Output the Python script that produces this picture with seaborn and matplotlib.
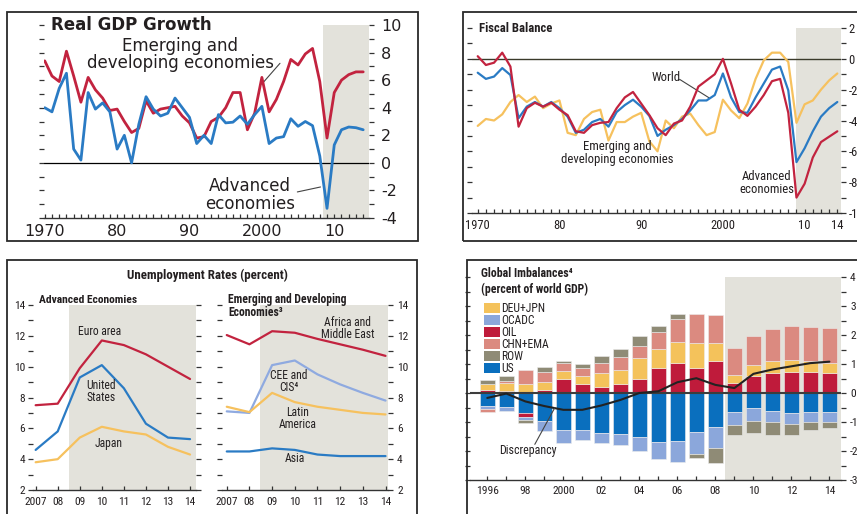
import os
import matplotlib
matplotlib.use("Agg")
import matplotlib.pyplot as plt
import seaborn as sns
import numpy as np
from matplotlib import font_manager as fm
from matplotlib.ticker import MultipleLocator, FixedLocator
from matplotlib.patches import Rectangle

# ---------------- data ----------------
years_gdp = list(range(1970, 2015))
gdp_emerging = [7.4, 6.3, 5.9, 8.1, 6.3, 4.4, 6.2, 5.3, 4.7, 3.8,
                3.9, 3.0, 2.2, 2.5, 4.5, 3.6, 3.9, 4.0, 4.1, 3.4,
                2.9, 1.8, 1.9, 3.0, 3.3, 4.0, 5.1, 5.1, 2.4, 3.6,
                6.2, 3.7, 4.6, 5.9, 7.5, 7.1, 7.9, 8.3, 5.9, 1.8,
                5.1, 6.0, 6.4, 6.6, 6.6]
gdp_advanced = [4.0, 3.7, 5.4, 6.5, 1.0, 0.2, 5.1, 3.9, 4.35, 3.7,
                1.0, 2.0, 0.0, 2.8, 4.8, 3.9, 3.4, 3.6, 4.7, 4.0,
                3.3, 1.4, 2.0, 1.4, 3.5, 2.9, 2.95, 3.4, 2.8, 3.5,
                4.1, 1.4, 1.8, 1.9, 3.2, 2.65, 3.0, 2.7, 0.5, -3.3,
                1.3, 2.4, 2.6, 2.55, 2.4]

years_fb = list(range(1970, 2015))
fb_advanced = [0.17, -0.4, -0.25, 0.4, -0.5, -4.4, -3.2, -2.85, -3.1, -2.85,
               -3.3, -3.65, -4.7, -4.8, -4.3, -4.15, -4.1, -3.2, -2.5, -2.15,
               -2.9, -3.65, -4.5, -4.95, -4.2, -4.0, -3.1, -1.8, -1.4, -1.0,
               0.0, -1.6, -3.3, -3.7, -3.1, -2.35, -1.45, -1.3, -3.5, -9.0,
               -8.1, -6.4, -5.4, -5.05, -4.7]
fb_world = [-0.9, -1.3, -1.15, -0.6, -1.05, -3.85, -3.1, -2.8, -3.1, -2.8,
            -3.2, -3.75, -4.8, -4.6, -4.1, -3.9, -4.4, -3.45, -3.0, -2.65,
            -3.1, -3.7, -5.0, -4.6, -4.3, -3.9, -3.35, -2.7, -2.7, -2.35,
            -0.95, -2.5, -3.45, -3.5, -2.5, -1.6, -0.7, -0.5, -2.05, -6.7,
            -5.8, -4.7, -3.75, -3.2, -2.8]
fb_emerging = [-4.35, -3.9, -4.0, -3.6, -2.8, -2.35, -2.8, -2.45, -3.2, -2.9,
               -2.7, -4.8, -4.95, -3.9, -3.45, -3.3, -5.3, -4.1, -4.1, -3.75,
               -3.5, -5.35, -6.0, -4.0, -4.5, -3.75, -3.55, -4.3, -4.95, -4.75,
               -2.65, -3.35, -3.85, -2.9, -1.3, -0.1, 0.4, 0.4, -0.2, -4.15,
               -2.95, -2.7, -2.0, -1.4, -0.95]

years_un = list(range(2007, 2015))
un_euro = [7.5, 7.6, 9.9, 11.7, 11.4, 10.8, 10.0, 9.2]
un_us = [4.6, 5.8, 9.3, 10.1, 8.6, 6.3, 5.4, 5.3]
un_japan = [3.8, 4.0, 5.4, 6.1, 5.8, 5.6, 4.8, 4.3]
un_africa_me = [12.05, 11.45, 12.3, 12.2, 11.8, 11.45, 11.1, 10.7]
un_cee_cis = [7.1, 7.0, 10.1, 10.4, 9.5, 8.85, 8.3, 7.8]
un_latam = [7.4, 7.05, 8.3, 7.7, 7.4, 7.2, 7.0, 6.9]
un_asia = [4.5, 4.5, 4.7, 4.6, 4.3, 4.2, 4.2, 4.2]
un_xlabels = ["2007", "08", "09", "10", "11", "12", "13", "14"]

years_gi = list(range(1996, 2015))
gi_us = [-0.44, -0.48, -0.70, -0.97, -1.29, -1.26, -1.37, -1.43, -1.52, -1.69,
         -1.64, -1.34, -1.17, -0.64, -0.53, -0.62, -0.70, -0.65, -0.64]
gi_oil = [0.10, 0.08, -0.13, 0.12, 0.50, 0.31, 0.20, 0.31, 0.50, 0.86,
          1.05, 0.85, 1.09, 0.35, 0.57, 0.70, 0.74, 0.74, 0.69]
gi_deu_jpn = [0.21, 0.27, 0.31, 0.26, 0.26, 0.27, 0.49, 0.50, 0.70, 0.67,
              0.70, 0.86, 0.65, 0.26, 0.38, 0.41, 0.41, 0.38, 0.36]
gi_ocadc = [-0.10, -0.14, -0.09, -0.33, -0.43, -0.35, -0.35, -0.35, -0.47, -0.58,
            -0.73, -0.77, -0.74, -0.47, -0.43, -0.38, -0.38, -0.35, -0.35]
gi_chn_ema = [-0.11, 0.08, 0.47, 0.35, 0.28, 0.29, 0.33, 0.43, 0.42, 0.58,
              0.80, 1.02, 0.95, 0.95, 1.01, 1.09, 1.16, 1.14, 1.19]
gi_row = [0.15, 0.14, -0.12, 0.15, 0.07, 0.14, 0.27, 0.29, 0.35, 0.20,
          0.19, -0.12, -0.50, -0.35, -0.41, -0.45, -0.37, -0.29, -0.23]
gi_discrepancy = [-0.17, -0.02, -0.29, -0.45, -0.58, -0.58, -0.43, -0.24, 0.0, 0.06,
                  0.37, 0.51, 0.28, 0.17, 0.66, 0.81, 0.92, 1.03, 1.08]
gi_xlabels = ["1996", "98", "2000", "02", "04", "06", "08", "10", "12", "14"]

# ---------------- fonts ----------------
sns.set_style("white")
plt.rcParams["font.family"] = ["DejaVu Sans"]
plt.rcParams["axes.unicode_minus"] = False

_files = {}
for _f in fm.fontManager.ttflist:
    _files.setdefault(os.path.basename(_f.fname).lower(), _f.fname)

_cands = [  # (regular, bold, size scale relative to Arial Narrow)
    ("liberationsansnarrow-regular.ttf", "liberationsansnarrow-bold.ttf", 1.0),
    ("robotocondensed-regular.ttf", "robotocondensed-bold.ttf", 0.93),
    ("roboto_condensed-regular.ttf", "roboto_condensed-bold.ttf", 0.93),
    ("notosans-condensed.ttf", "notosans-condensedbold.ttf", 0.9),
    ("dejavusanscondensed.ttf", "dejavusanscondensed-bold.ttf", 0.84),
]
REG = BLD = None
SCALE = 0.8
for r, b, s in _cands:
    if r in _files:
        REG = _files[r]
        BLD = _files.get(b, REG)
        SCALE = s
        break


def NF(size, bold=False):
    if REG is not None:
        return fm.FontProperties(fname=(BLD if bold else REG), size=size * SCALE)
    return fm.FontProperties(family="DejaVu Sans", size=size * SCALE,
                             weight="bold" if bold else "normal")


SHADE = "#E3E2DB"
RED = "#C2233F"
BLUE = "#2A7BC4"
ORANGE = "#F6C15E"
LBLUE = "#8FAAE0"
TXT = "#231F20"
TICK = "#333333"

C_DEU = "#F4C25B"
C_OCADC = "#8BA7DB"
C_OIL = "#BF1B3B"
C_CHN = "#DB8A80"
C_ROW = "#8F8B76"
C_US = "#0A6FBE"

W, H = 857, 514
fig = plt.figure(figsize=(W / 100, H / 100), dpi=100)
fig.patch.set_facecolor("white")


def px_axes(x0, y0, x1, y1):
    return fig.add_axes([x0 / W, 1 - y1 / H, (x1 - x0) / W, (y1 - y0) / H])


def frame(x0, y0, x1, y1):
    fig.add_artist(Rectangle((x0 / W, 1 - y1 / H), (x1 - x0) / W, (y1 - y0) / H,
                             transform=fig.transFigure, fill=False,
                             ec="#2a2a2a", lw=1.3))


def setup(ax, xlim, ylim, shade_from, ymaj, ymin, side, xmaj, xlabels, fp,
          ypad=2, xpad=3):
    ax.set_xlim(*xlim)
    ax.set_ylim(*ylim)
    ax.axvspan(shade_from, xlim[1], color=SHADE, lw=0, zorder=0)
    for s in ["left", "right", "top"]:
        ax.spines[s].set_visible(False)
    ax.spines["bottom"].set_color(TICK)
    ax.spines["bottom"].set_linewidth(1.0)
    ax.yaxis.set_major_locator(MultipleLocator(ymaj))
    ax.yaxis.set_minor_locator(MultipleLocator(ymin))
    ax.tick_params(axis="y", which="both", left=True, right=True,
                   labelleft=(side == "left"), labelright=(side == "right"),
                   direction="out", length=3.5, width=0.9, color=TICK,
                   labelcolor=TXT, pad=ypad)
    ax.xaxis.set_major_locator(FixedLocator(xmaj))
    ax.set_xticklabels(xlabels)
    ax.xaxis.set_minor_locator(MultipleLocator(1))
    ax.tick_params(axis="x", which="both", bottom=True, direction="in",
                   length=3, width=0.9, color=TICK, labelcolor=TXT, pad=xpad)
    for lab in ax.get_xticklabels() + ax.get_yticklabels():
        lab.set_fontproperties(fp)
    ax.set_xlabel("")
    ax.set_ylabel("")
    ax.set_facecolor("none")
    ax.grid(False)


# ---------------- frames ----------------
frame(7, 12, 418, 241)
frame(463, 12, 880, 241)
frame(7, 260, 417, 540)
frame(467, 260, 880, 540)

# ---------------- panel 1: Real GDP growth ----------------
DJ = "DejaVu Sans"
ax1 = px_axes(44, 25, 369, 218)
ax1.axhline(0, color="black", lw=0.9, zorder=1)
sns.lineplot(x=years_gdp, y=gdp_emerging, ax=ax1, color=RED, lw=2.0, zorder=3)
sns.lineplot(x=years_gdp, y=gdp_advanced, ax=ax1, color=BLUE, lw=2.0, zorder=3)
setup(ax1, (1969.9, 2014.8), (-4, 10), 2008.5, 2, 1, "right",
      [1970, 1980, 1990, 2000, 2010], ["1970", "80", "90", "2000", "10"],
      fm.FontProperties(family=DJ, size=11.5), ypad=5, xpad=4)
ax1.text(1970.8, 10, "Real GDP Growth", fontsize=12, fontweight="bold",
         family=DJ, color=TXT, ha="left", va="center")
ax1.text(1988.7, 7.86, "Emerging and\ndeveloping economies", fontsize=12,
         family=DJ, color=TXT, ha="center", va="center", linespacing=0.95)
ax1.plot([2002.5, 2000.0], [7.22, 5.72], color="#444", lw=0.8)
ax1.text(1998.4, -2.33, "Advanced\neconomies", fontsize=12, family=DJ,
         color=TXT, ha="center", va="center", linespacing=0.95)
ax1.plot([2004.9, 2008.1], [-2.11, -1.75], color="#444", lw=0.8)

# ---------------- panel 2: Fiscal balance ----------------
ax2 = px_axes(472, 28, 841, 213)
ax2.axhline(0, color="#3a3a2a", lw=1.0, zorder=1)
sns.lineplot(x=years_fb, y=fb_emerging, ax=ax2, color=ORANGE, lw=1.6, zorder=3)
sns.lineplot(x=years_fb, y=fb_world, ax=ax2, color=BLUE, lw=1.6, zorder=3)
sns.lineplot(x=years_fb, y=fb_advanced, ax=ax2, color=RED, lw=1.6, zorder=3)
setup(ax2, (1969.3, 2014.45), (-10, 2), 2009.0, 2, 1, "right",
      [1970, 1980, 1990, 2000, 2010, 2014],
      ["1970", "80", "90", "2000", "10", "14"], NF(9.7), ypad=2, xpad=4)
ax2.text(1970.2, 2, "Fiscal Balance", fontproperties=NF(9.8, True),
         color=TXT, ha="left", va="center")
ax2.text(1993.05, -1.24, "World", fontproperties=NF(9.8), color=TXT,
         ha="center", va="center")
ax2.plot([1994.7, 1998.4], [-1.33, -2.56], color="#444", lw=0.8)
ax2.text(1987.05, -6.1, "Emerging and\ndeveloping economies", fontproperties=NF(9.8),
         color=TXT, ha="center", va="center", linespacing=0.95)
ax2.text(2005.4, -8.05, "Advanced\neconomies", fontproperties=NF(9.8), color=TXT,
         ha="center", va="center", linespacing=0.95)

# ---------------- panel 3: Unemployment ----------------
fig.text(207 / W, 1 - 275 / H, "Unemployment Rates (percent)",
         fontproperties=NF(10.1, True), color=TXT, ha="center", va="center")

ax3a = px_axes(33, 305, 196, 490)
sns.lineplot(x=years_un, y=un_euro, ax=ax3a, color=RED, lw=1.6, zorder=3)
sns.lineplot(x=years_un, y=un_us, ax=ax3a, color=BLUE, lw=1.6, zorder=3)
sns.lineplot(x=years_un, y=un_japan, ax=ax3a, color=ORANGE, lw=1.6, zorder=3)
setup(ax3a, (2006.88, 2014.27), (2, 14), 2008.5, 2, 1, "left",
      years_un, un_xlabels, NF(8.8), ypad=2, xpad=5)
ax3a.text(2007.15, 14.3, "Advanced Economies", fontproperties=NF(8.9, True),
          color=TXT, ha="left", va="center")
ax3a.text(2009.92, 12.31, "Euro area", fontproperties=NF(9.0), color=TXT,
          ha="center", va="center")
ax3a.text(2009.96, 8.38, "United\nStates", fontproperties=NF(9.0), color=TXT,
          ha="center", va="center", linespacing=0.95)
ax3a.text(2010.29, 4.99, "Japan", fontproperties=NF(9.0), color=TXT,
          ha="center", va="center")

ax3b = px_axes(222, 305, 388, 490)
sns.lineplot(x=years_un, y=un_africa_me, ax=ax3b, color=RED, lw=1.6, zorder=3)
sns.lineplot(x=years_un, y=un_cee_cis, ax=ax3b, color=LBLUE, lw=1.6, zorder=3)
sns.lineplot(x=years_un, y=un_latam, ax=ax3b, color=ORANGE, lw=1.6, zorder=3)
sns.lineplot(x=years_un, y=un_asia, ax=ax3b, color=BLUE, lw=1.6, zorder=3)
setup(ax3b, (2006.79, 2014.11), (2, 14), 2008.45, 2, 1, "right",
      years_un, un_xlabels, NF(8.8), ypad=3, xpad=5)
ax3b.text(2007.05, 14.8, "Emerging and Developing\nEconomies\u00b3",
          fontproperties=NF(9.0, True), color=TXT, ha="left", va="top",
          linespacing=1.0)
ax3b.text(2012.34, 12.46, "Africa and\nMiddle East", fontproperties=NF(9.0),
          color=TXT, ha="center", va="center", linespacing=0.95)
ax3b.text(2009.74, 9.05, "CEE and\nCIS\u2074", fontproperties=NF(9.0), color=TXT,
          ha="center", va="center", linespacing=0.95)
ax3b.text(2010.14, 6.65, "Latin\nAmerica", fontproperties=NF(9.0), color=TXT,
          ha="center", va="center", linespacing=0.95)
ax3b.text(2010.0, 4.06, "Asia", fontproperties=NF(9.0), color=TXT,
          ha="center", va="center")

# ---------------- panel 4: Global imbalances ----------------
ax4 = px_axes(470, 277, 841, 480)
series = [("US", gi_us, C_US), ("OIL", gi_oil, C_OIL), ("DEU+JPN", gi_deu_jpn, C_DEU),
          ("OCADC", gi_ocadc, C_OCADC), ("CHN+EMA", gi_chn_ema, C_CHN),
          ("ROW", gi_row, C_ROW)]
yrs = np.array(years_gi)
pos = np.zeros(len(yrs))
neg = np.zeros(len(yrs))
for name, vals, col in series:
    v = np.array(vals, dtype=float)
    p = np.where(v > 0, v, 0.0)
    q = np.where(v < 0, v, 0.0)
    mp = p > 0
    mq = q < 0
    if mp.any():
        ax4.bar(yrs[mp], p[mp], bottom=pos[mp], width=0.78, color=col,
                edgecolor="#EDEDED", lw=0.4, zorder=2)
    if mq.any():
        ax4.bar(yrs[mq], q[mq], bottom=neg[mq], width=0.78, color=col,
                edgecolor="#EDEDED", lw=0.4, zorder=2)
    pos += p
    neg += q
ax4.axhline(0, color="#3d3d3d", lw=1.5, zorder=4)
sns.lineplot(x=years_gi, y=gi_discrepancy, ax=ax4, color="#222222", lw=1.5, zorder=5)
setup(ax4, (1995.09, 2014.61), (-3, 4), 2008.5, 1, 0.5, "right",
      [1996, 1998, 2000, 2002, 2004, 2006, 2008, 2010, 2012, 2014],
      gi_xlabels, NF(8.9), ypad=3, xpad=4)
ax4.text(1995.65, 4.13, "Global Imbalances\u2074", fontproperties=NF(9.2, True),
         color=TXT, ha="left", va="center")
ax4.text(1995.65, 3.58, "(percent of world GDP)", fontproperties=NF(9.1, True),
         color=TXT, ha="left", va="center")
ax4.text(1998.12, -1.97, "Discrepancy", fontproperties=NF(9.2), color=TXT,
         ha="center", va="center")
ax4.plot([1998.5, 1999.55], [-1.77, -0.51], color="#444", lw=0.8, zorder=6)

# legend (manual, figure pixel positions)
leg = [("DEU+JPN", C_DEU), ("OCADC", C_OCADC), ("OIL", C_OIL),
       ("CHN+EMA", C_CHN), ("ROW", C_ROW), ("US", C_US)]
for i, (lab, col) in enumerate(leg):
    yc = 308 + 12 * i
    fig.add_artist(Rectangle((484 / W, 1 - (yc + 5) / H), 16 / W, 10 / H,
                             transform=fig.transFigure, color=col, lw=0))
    fig.text(501 / W, 1 - yc / H, lab, fontproperties=NF(9.0), color=TXT,
             ha="left", va="center")

fig.savefig("out.png", dpi=100)
